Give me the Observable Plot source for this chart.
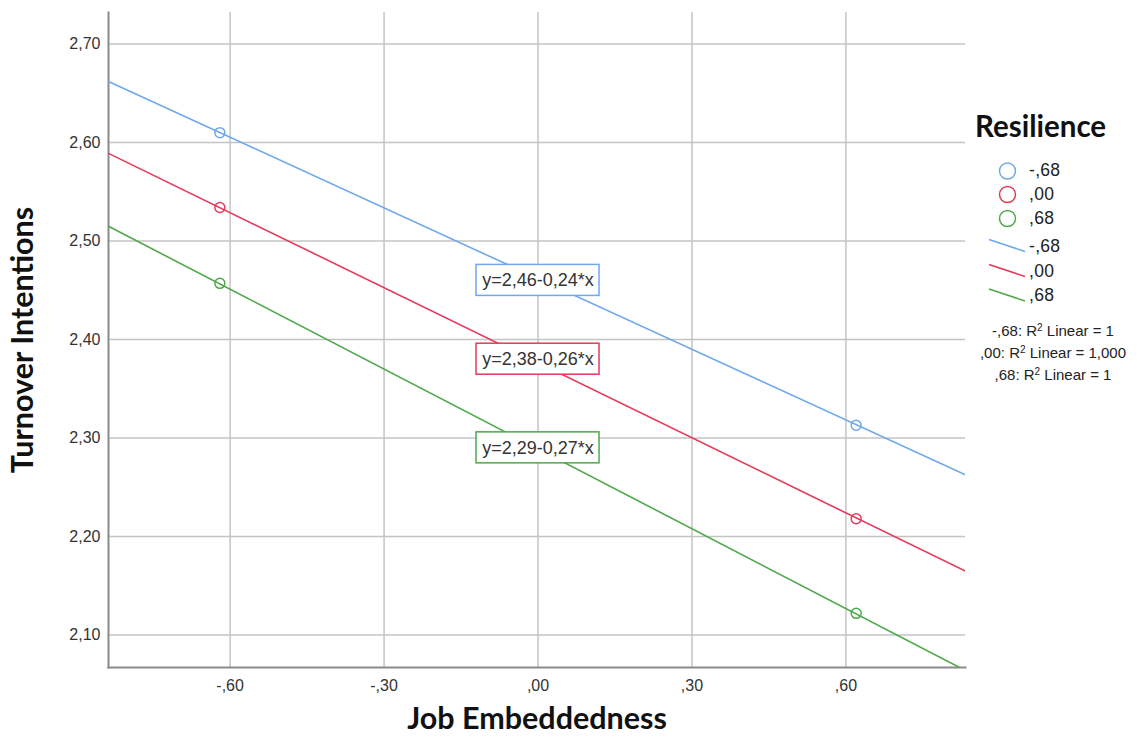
<!DOCTYPE html>
<html>
<head>
<meta charset="utf-8">
<script src="https://cdn.jsdelivr.net/npm/d3@7"></script>
<script src="https://cdn.jsdelivr.net/npm/@observablehq/plot@0.6"></script>
<style>
  html, body { margin: 0; padding: 0; background: #fff; }
  #wrap { position: relative; width: 1137px; height: 745px; overflow: hidden; }
  .lg { position: absolute; font-family: "Liberation Sans", Arial, sans-serif; color: #222; white-space: nowrap; }
</style>
</head>
<body>
<div id="wrap"></div>
<script>
// ---- data ----
const groups = ["-,68", ",00", ",68"];               // Resilience levels
const colors = ["#6fa8ec", "#e5395c", "#4fa84b"];
const pointX = [-0.62, 0.62];                        // Job Embeddedness (±1 SD)
const pointsLow  = [2.610, 2.313];                   // Resilience -,68
const pointsMid  = [2.534, 2.218];                   // Resilience ,00
const pointsHigh = [2.457, 2.122];                   // Resilience ,68
const lineX = [-0.837, 0.840];                       // fit lines span the axis
const lineLow  = [2.662, 2.261];
const lineMid  = [2.589, 2.163];
const lineHigh = [2.515, 2.062];
const intercepts = [2.46, 2.38, 2.29];
const equations = ["y=2,46-0,24*x", "y=2,38-0,26*x", "y=2,29-0,27*x"];
const r2Labels = ["-,68: R", ",00: R", ",68: R"];
const r2Values = ["1", "1,000", "1"];
const xTicks = [-0.6, -0.3, 0, 0.3, 0.6];
const xTickLabels = ["-,60", "-,30", ",00", ",30", ",60"];
const yTicks = [2.1, 2.2, 2.3, 2.4, 2.5, 2.6, 2.7];
const yTickLabels = ["2,10", "2,20", "2,30", "2,40", "2,50", "2,60", "2,70"];

// ---- tables built from the arrays ----
const pointSeries = [pointsLow, pointsMid, pointsHigh];
const lineSeries = [lineLow, lineMid, lineHigh];
const points = [], lines = [];
groups.forEach((g, i) => {
  pointX.forEach((x, j) => points.push({g, x, y: pointSeries[i][j], c: colors[i]}));
  lineX.forEach((x, j) => lines.push({g, x, y: lineSeries[i][j], c: colors[i]}));
});
const eqs = groups.map((g, i) => ({g, y: intercepts[i], text: equations[i], c: colors[i]}));

const font = '"Liberation Sans", Arial, sans-serif';
const titleFont = 'Lato, "Open Sans", sans-serif';

const chart = Plot.plot({
  width: 1137, height: 745,
  marginLeft: 108, marginRight: 172, marginTop: 12, marginBottom: 78,
  style: {fontFamily: font, background: "#fff"},
  x: {domain: [-0.837, 0.833]},
  y: {domain: [2.067, 2.732]},
  marks: [
    Plot.gridX(xTicks, {stroke: "#c4c4c4", strokeOpacity: 1, strokeWidth: 1.5}),
    Plot.gridY(yTicks, {stroke: "#c4c4c4", strokeOpacity: 1, strokeWidth: 1.5}),
    Plot.frame({anchor: "left", stroke: "#8a8a8a", strokeWidth: 2}),
    Plot.frame({anchor: "bottom", stroke: "#8a8a8a", strokeWidth: 2}),
    Plot.axisX(xTicks, {tickSize: 0, tickPadding: 12, fontSize: 16, fill: "#333",
      tickFormat: (d, i) => xTickLabels[i], label: null}),
    Plot.axisY(yTicks, {tickSize: 0, tickPadding: 8, fontSize: 16, fill: "#333",
      tickFormat: (d, i) => yTickLabels[i], label: null}),
    Plot.line(lines, {x: "x", y: "y", z: "g", stroke: "c", strokeWidth: 1.6, clip: true}),
    Plot.dot(points, {x: "x", y: "y", stroke: "c", r: 5, strokeWidth: 1.5, fill: "none"}),
    Plot.rect(eqs, {x1: 0, x2: 0, y1: "y", y2: "y",
      insetLeft: -61.5, insetRight: -61.5, insetTop: -15.5, insetBottom: -15.5,
      fill: "#fff", stroke: "c", strokeWidth: 1.5}),
    Plot.text(eqs, {x: 0, y: "y", text: "text", fontSize: 18, fill: "#333", fontFamily: font}),
    Plot.text(["Job Embeddedness"], {frameAnchor: "bottom", dy: 61, text: d => d,
      fontSize: 30.5, fontWeight: "bold", fill: "#111", fontFamily: titleFont}),
    Plot.text(["Turnover Intentions"], {frameAnchor: "left", dx: -85, rotate: -90, textAnchor: "middle",
      text: d => d, fontSize: 30.5, fontWeight: "bold", fill: "#111", fontFamily: titleFont})
  ]
});

const wrap = document.getElementById("wrap");
wrap.appendChild(chart);

// ---- legend ----
function place(html, left, cy, size, opts = {}) {
  const el = document.createElement("div");
  el.className = "lg";
  el.innerHTML = html;
  el.style.fontSize = size + "px";
  el.style.lineHeight = "1";
  if (opts.bold) { el.style.fontWeight = "bold"; }
  if (opts.family) el.style.fontFamily = opts.family;
  if (opts.color) el.style.color = opts.color;
  if (opts.spacing) el.style.letterSpacing = opts.spacing;
  wrap.appendChild(el);
  const h = el.getBoundingClientRect().height;
  const w = el.getBoundingClientRect().width;
  el.style.top = (cy - h / 2) + "px";
  el.style.left = (opts.center ? left - w / 2 : left) + "px";
  return el;
}
place("Resilience", 975, 126, 29.5, {bold: true, family: titleFont, color: "#111"});

const svg = d3.select(wrap).append("svg")
  .attr("width", 1137).attr("height", 745)
  .style("position", "absolute").style("left", 0).style("top", 0).style("pointer-events", "none");
const circleY = [171, 194.5, 218.5];
const lineY = [246.5, 271.5, 296];
groups.forEach((g, i) => {
  svg.append("circle").attr("cx", 1007.5).attr("cy", circleY[i]).attr("r", 8)
    .attr("fill", "none").attr("stroke", colors[i]).attr("stroke-width", 1.5);
  place(g, 1029, circleY[i], 17.5, {spacing: "0.3px"});
  svg.append("line").attr("x1", 989).attr("y1", lineY[i] - 7).attr("x2", 1025).attr("y2", lineY[i] + 5)
    .attr("stroke", colors[i]).attr("stroke-width", 1.6);
  place(g, 1029, lineY[i], 17.5, {spacing: "0.3px"});
});
const r2Y = [330, 352.5, 374];
groups.forEach((g, i) => {
  place(`${r2Labels[i]}<sup style="font-size:10px;vertical-align:5px">2</sup> Linear = ${r2Values[i]}`, 1053, r2Y[i], 15, {center: true});
});
</script>
</body>
</html>
